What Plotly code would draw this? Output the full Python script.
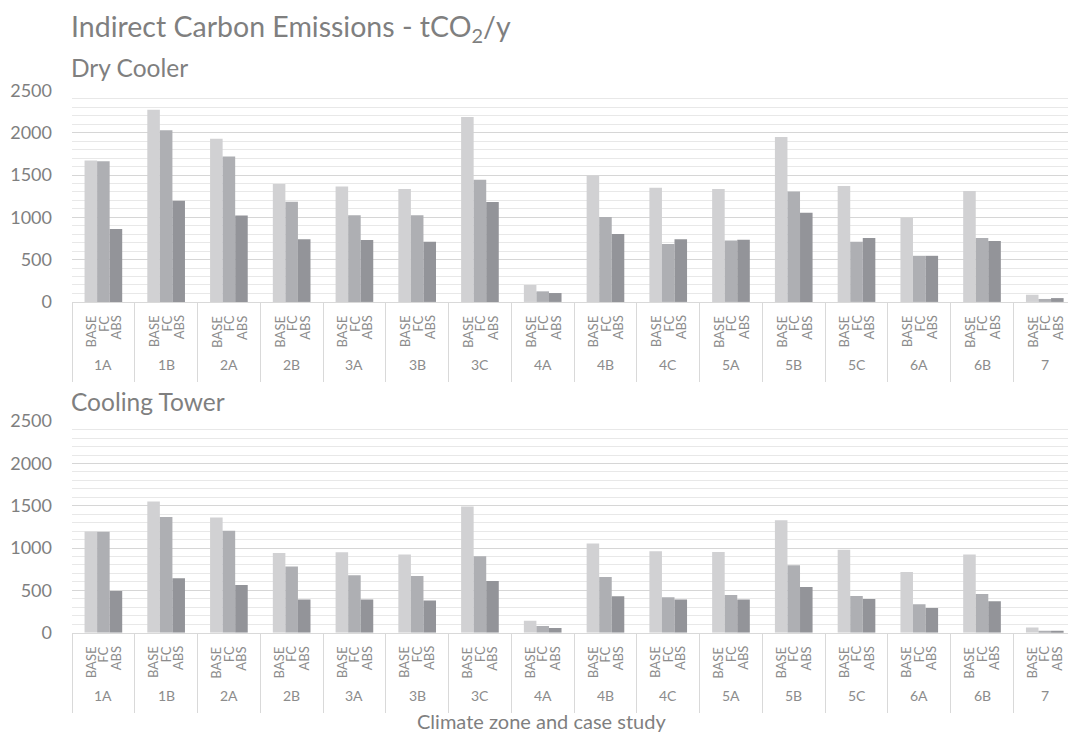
import plotly.graph_objects as go

# Climate zones (x categories) and the three case studies per zone
zones = ["1A", "1B", "2A", "2B", "3A", "3B", "3C", "4A",
         "4B", "4C", "5A", "5B", "5C", "6A", "6B", "7"]
cases = ["BASE", "FC", "ABS"]

# Indirect carbon emissions, tCO2/y - Dry Cooler
dry_base = [1670, 2270, 1930, 1395, 1365, 1335, 2185, 200,
            1495, 1350, 1335, 1950, 1370, 995, 1310, 85]
dry_fc = [1662, 2030, 1720, 1185, 1025, 1025, 1445, 125,
          1005, 685, 725, 1305, 710, 545, 755, 35]
dry_abs = [862, 1197, 1020, 740, 732, 712, 1180, 105,
           802, 740, 735, 1055, 755, 545, 720, 45]

# Indirect carbon emissions, tCO2/y - Cooling Tower
tower_base = [1195, 1550, 1361, 943, 951, 923, 1490, 142,
              1053, 963, 955, 1330, 979, 718, 923, 62]
tower_fc = [1192, 1366, 1204, 781, 679, 671, 904, 79,
            659, 419, 446, 797, 434, 336, 458, 22]
tower_abs = [493, 644, 564, 391, 391, 379, 612, 56,
             430, 391, 391, 541, 399, 292, 371, 22]

y_ticks = [0, 500, 1000, 1500, 2000, 2500]

colors = ["#d1d1d3", "#aeafb3", "#939499"]
FONT = "Lato"
TXT = "#7f7f7f"
LIGHT = "#8c8c8c"

W, H = 1068, 740
LEFT = 72


def py(pix):
    """Pixel row -> paper y (margins are zero top/bottom)."""
    return 1 - pix / H


panels = [
    dict(title="Dry Cooler", series=[dry_base, dry_fc, dry_abs],
         top=80.8, base=298.8, head=57, xa="x", ya="y"),
    dict(title="Cooling Tower", series=[tower_base, tower_fc, tower_abs],
         top=421.7, base=639.7, head=401, xa="x2", ya="y2"),
]

fig = go.Figure()
annotations = []

for p in panels:
    for case, vals, col in zip(cases, p["series"], colors):
        fig.add_trace(go.Bar(
            x=zones, y=vals, name=case, marker_color=col,
            marker_line_width=0, showlegend=False,
            xaxis=p["xa"], yaxis=p["ya"],
        ))

    plot_h = p["base"] - p["top"]
    xref = p["xa"]
    ydom = p["ya"] + " domain"

    # case labels, rotated, under each bar; zone label below them
    for i, z in enumerate(zones):
        for k, case in enumerate(cases):
            annotations.append(dict(
                x=i + (k - 1) * 0.2, xref=xref,
                y=-12 / plot_h, yref=ydom,
                text=case, textangle=-90, showarrow=False,
                xanchor="center", yanchor="top",
                font=dict(family=FONT, size=13, color=LIGHT),
            ))
        annotations.append(dict(
            x=i, xref=xref, y=-65 / plot_h, yref=ydom,
            text=z, showarrow=False, xanchor="center", yanchor="middle",
            font=dict(family=FONT, size=14, color=LIGHT),
        ))

    # panel heading
    annotations.append(dict(
        x=0, xref="paper", xshift=-3, y=py(p["head"]), yref="paper",
        text=p["title"], showarrow=False, xanchor="left", yanchor="middle",
        font=dict(family=FONT, size=24.5, color=TXT),
    ))

# main title
annotations.append(dict(
    x=0, xref="paper", xshift=-3, y=py(16), yref="paper",
    text="Indirect Carbon Emissions - tCO<sub>2</sub>/y", showarrow=False,
    xanchor="left", yanchor="middle",
    font=dict(family=FONT, size=28.5, color=TXT),
))
# x-axis title
annotations.append(dict(
    x=(541 - LEFT) / (W - LEFT), xref="paper", y=py(731), yref="paper",
    text="Climate zone and case study", showarrow=False,
    xanchor="center", yanchor="middle",
    font=dict(family=FONT, size=20, color=TXT),
))

xaxis_common = dict(
    type="category", range=[-0.5, 15.37], domain=[0, 1],
    showline=True, linecolor="#d9d9d9", linewidth=1,
    ticks="outside", tickson="boundaries", ticklen=79,
    tickcolor="#d9d9d9", tickwidth=1,
    showticklabels=False, showgrid=False, fixedrange=True,
)
yaxis_common = dict(
    range=[0, 2500], tickvals=y_ticks, showgrid=True,
    gridcolor="#d6d6d6", gridwidth=1,
    minor=dict(dtick=100, showgrid=True, gridcolor="#e8e8e8", gridwidth=1),
    zeroline=False, showline=False, ticks="",
    tickfont=dict(family=FONT, size=18, color=TXT),
    ticklabelstandoff=19, fixedrange=True,
)

fig.update_layout(
    width=W, height=H,
    margin=dict(l=LEFT, r=0, t=0, b=0),
    paper_bgcolor="white", plot_bgcolor="white",
    barmode="group", bargap=0.4, bargroupgap=0,
    xaxis=dict(xaxis_common, anchor="y"),
    yaxis=dict(yaxis_common, anchor="x",
               domain=[py(panels[0]["base"]), py(panels[0]["top"])]),
    xaxis2=dict(xaxis_common, anchor="y2"),
    yaxis2=dict(yaxis_common, anchor="x2",
                domain=[py(panels[1]["base"]), py(panels[1]["top"])]),
    annotations=annotations,
    font=dict(family=FONT, color=TXT),
)

fig.write_html("out.html")
